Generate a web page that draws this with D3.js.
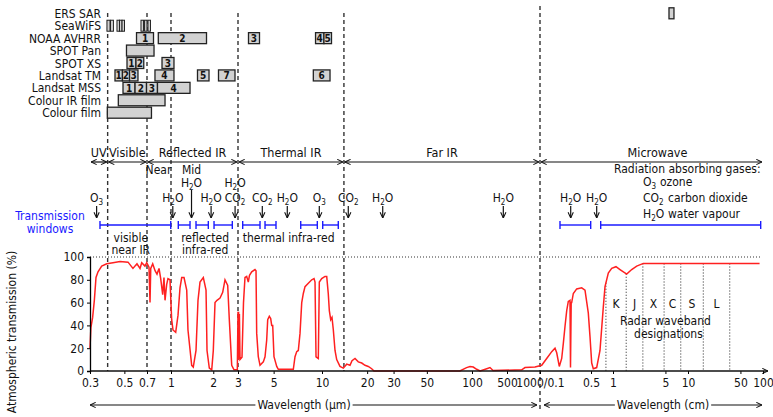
<!DOCTYPE html>
<html><head><meta charset="utf-8">
<script src="https://cdn.jsdelivr.net/npm/d3@7"></script>
<style>
body{margin:0;background:#fff;}
text{font-family:"DejaVu Sans Condensed","Liberation Sans Narrow",sans-serif;font-size:12px;fill:#111;}
</style></head><body>
<svg id="chart" width="773" height="417"></svg>
<script>
// ---- data (wavelengths in micrometres) ----
var sensorNames = ["ERS SAR","SeaWiFS","NOAA AVHRR","SPOT Pan","SPOT XS","Landsat TM","Landsat MSS","Colour IR film","Colour film"];
var sensorBands = [
  ["ERS SAR",55800,65000,""],
  ["SeaWiFS",0.386,0.404,""],["SeaWiFS",0.407,0.425,""],["SeaWiFS",0.448,0.465,""],["SeaWiFS",0.465,0.483,""],
  ["SeaWiFS",0.483,0.501,""],["SeaWiFS",0.640,0.665,""],["SeaWiFS",0.675,0.700,""],["SeaWiFS",0.710,0.737,""],
  ["NOAA AVHRR",0.599,0.771,"1"],["NOAA AVHRR",0.828,1.79,"2"],["NOAA AVHRR",3.487,4.083,"3"],
  ["NOAA AVHRR",9.115,10.3,"4"],["NOAA AVHRR",10.3,11.57,"5"],
  ["SPOT Pan",0.516,0.777,""],
  ["SPOT XS",0.52,0.594,"1"],["SPOT XS",0.594,0.667,"2"],["SPOT XS",0.875,1.05,"3"],
  ["Landsat TM",0.435,0.486,"1"],["Landsat TM",0.486,0.54,"2"],["Landsat TM",0.54,0.612,"3"],
  ["Landsat TM",0.788,1.05,"4"],["Landsat TM",1.544,1.865,"5"],["Landsat TM",2.179,2.856,"7"],["Landsat TM",8.83,11.31,"6"],
  ["Landsat MSS",0.49,0.586,"1"],["Landsat MSS",0.586,0.695,"2"],["Landsat MSS",0.695,0.818,"3"],["Landsat MSS",0.818,1.366,"4"],
  ["Colour IR film",0.457,0.915,""],
  ["Colour film",0.388,0.748,""]
];
var regions = [["UV",0.3,0.39],["Visible",0.39,0.7],["Reflected IR",0.7,3],["Thermal IR",3,14],["Far IR",14,1000],["Microwave",1000,1e6]];
var boundaries = [0.39,0.7,1,3,14];
var subRegions = [["Near",0.83],["Mid",1.4]];
var windows = [[0.348,0.996],[1.127,1.366],[1.507,1.844],[2.025,2.733],[3.209,4.113],[4.419,5.172],
               [7.371,9.352],[10.11,12.84],[1879,4949],[6783,931600]];
var windowNotes = [["visible",0.55,0],["near IR",0.55,1],["reflected",1.75,0],["infra-red",1.75,1],["thermal infra-red",6.2,0]];
var gasArrows = [[0.331,0],[1.03,0],[1.40,1],[1.93,0],[2.86,0],[4.25,0],[6.08,0],[9.62,0],[14.97,0],[25.4,0],[422,0],[2634,0],[5979,0]];
var gasLabels = [[0.331,"O3",0],[1.03,"H2O",0],[1.40,"H2O",1],[1.93,"H2O",0],[2.86,"H2O",1],[2.86,"CO2",0],[4.25,"CO2",0],
                 [6.08,"H2O",0],[9.62,"O3",0],[14.97,"CO2",0],[25.4,"H2O",0],[422,"H2O",0],[2634,"H2O",0],[5979,"H2O",0]];
var gasLegend = [["O3","ozone"],["CO2","carbon dioxide"],["H2O","water vapour"]];
var transmission = [
  [0.300,20],[0.304,38],[0.312,47],[0.320,62],[0.328,82],[0.338,87],[0.357,92],[0.385,94],[0.422,95],[0.469,96],[0.528,95.5],
  [0.568,90],[0.603,94],[0.631,90],[0.647,95],[0.679,92],[0.697,95],[0.721,91],[0.732,60],[0.740,90],[0.762,94],[0.789,88],
  [0.812,85],[0.837,90],[0.858,81],[0.884,67],[0.901,82],[0.915,62],[0.938,76],[0.956,81],[0.985,80],
  [1.011,45],[1.033,36],[1.080,34],[1.122,49],[1.159,73],[1.192,82],[1.238,82],[1.294,71],[1.321,36],[1.404,5],[1.441,3.5],
  [1.507,18],[1.557,62],[1.609,78],[1.699,82],[1.776,71],[1.805,18],[1.874,2.6],[1.950,1],[2.001,18],[2.058,60],[2.126,62],
  [2.234,64],[2.334,69],[2.424,80],[2.534,75],[2.602,45],[2.706,5],[2.810,1],[2.967,1],
  [3.000,52],[3.013,10],[3.026,52],[3.043,10],[3.061,50],[3.088,10],[3.177,12],[3.246,60],[3.316,82],[3.398,83],[3.477,78],
  [3.538,84],[3.651,87],[3.828,89],[3.884,88],[3.922,33],[4.013,12.5],[4.113,5],[4.312,8],[4.419,12.5],[4.525,27],[4.592,45],
  [4.699,48],[4.794,46],[4.863,40],[4.933,40],[5.025,12.5],[5.226,4],[5.346,1.5],[6.630,1.5],[6.792,12.5],[6.960,17],[7.121,18],
  [7.297,33],[7.478,60],[7.651,68],[7.841,74],[8.220,77],[8.630,80],[8.920,81],[9.049,78],[9.179,12.5],[9.486,11],[9.623,78],
  [9.959,81],[10.47,83],[10.75,83],[11.01,68],[11.19,53],[11.43,45],[11.66,47],[11.90,36],[12.21,18],[12.53,10],[13.18,4],
  [13.87,2.5],[14.61,6],[15.37,5],[15.85,9],[16.6,11],[17.46,8],[18.40,7],[19.35,5],[20.35,4],[21.45,2],[22.22,0],[83,0],
  [92,3],[97,4],[106,3.5],[124,1.5],[145,0],[197,2],[229,3],[263,0.5],[681,1],[730,3],[900,3.5],[1055,5],[1235,11],[1447,17],
  [1605,20],[1694,16],[1838,4],[1983,11],[2085,24],[2200,39],[2322,53],[2442,61],[2576,62],[2617,3],[2675,60],[2718,60],
  [2860,68],[3182,72],[3725,73],[4135,71],[4587,51],[4842,30],[5108,7],[5372,2],[5978,3],[6634,18],[7364,56],[7772,74],
  [8623,86],[9599,90],[10965,91.5],[12397,89],[15229,85],[17757,89],[20701,92],[25351,94.4],[900000,94.4]
];
var radarEdges = [8000,15000,25000,48000,80000,160000,360000];
var radarBands = ["K","J","X","C","S","L"];
var tickUm = [0.3,0.5,0.7,1,2,3,5,10,20,30,50,100,500,1000];
var tickCm = [0.5,1,5,10,50,100];
var yTicks = [0,20,40,60,80,100];

// ---- scales ----
var svg = d3.select("#chart");
var x = d3.scaleLog()
  .domain([0.3,1,3,10,100,500,1000,1e4,1e6])
  .range([90,171,238,322,472,507,540,613,763]);
var y = d3.scaleLinear().domain([0,100]).range([371,257]);
var row = d3.scalePoint().domain(sensorNames).range([13.3,112.7]);

var defs = svg.append("defs");
defs.append("marker").attr("id","arr").attr("viewBox","0 0 8 8")
  .attr("refX",7.5).attr("refY",4).attr("markerWidth",7).attr("markerHeight",7)
  .attr("markerUnits","userSpaceOnUse").attr("orient","auto-start-reverse")
  .append("path").attr("d","M1,1 L7.5,4 L1,7").attr("fill","none").attr("stroke","#111").attr("stroke-width",1.2);

function gasText(sel, name) {
  var parts = {"O3":["O","3",""],"H2O":["H","2","O"],"CO2":["CO","2",""]}[name];
  sel.append("tspan").text(parts[0]);
  sel.append("tspan").attr("dy",3).attr("font-size","8px").text(parts[1]);
  if (parts[2]) sel.append("tspan").attr("dy",-3).text(parts[2]);
}

// ---- dashed boundary lines ----
svg.selectAll("line.bound").data(boundaries).enter().append("line")
  .attr("x1",d=>x(d)).attr("x2",d=>x(d)).attr("y1",13).attr("y2",371)
  .attr("stroke","#333").attr("stroke-width",1.4).attr("stroke-dasharray","4,3");
svg.append("line").attr("x1",x(1000)).attr("x2",x(1000)).attr("y1",6).attr("y2",411)
  .attr("stroke","#333").attr("stroke-width",1.4).attr("stroke-dasharray","4,3");

// ---- sensors ----
svg.selectAll("text.sensor").data(sensorNames).enter().append("text")
  .attr("x",101).attr("y",d=>row(d)+4.5).attr("text-anchor","end").text(d=>d);
var bands = svg.selectAll("g.band").data(sensorBands).enter().append("g");
bands.append("rect")
  .attr("x",d=>x(d[1])).attr("width",d=>x(d[2])-x(d[1]))
  .attr("y",d=>row(d[0])-5.5).attr("height",11)
  .attr("fill","#d2d2d2").attr("stroke","#222").attr("stroke-width",d=>d[0]=="SeaWiFS"?1:1.3);
bands.append("text")
  .attr("x",d=>(x(d[1])+x(d[2]))/2).attr("y",d=>row(d[0])+4)
  .attr("text-anchor","middle").style("font-size","10px").style("font-weight","bold")
  .text(d=>d[3]);

// ---- regions ----
var reg = svg.selectAll("g.reg").data(regions).enter().append("g");
reg.append("line").attr("x1",d=>x(d[1])+1).attr("x2",d=>x(d[2])-1).attr("y1",162).attr("y2",162)
  .attr("stroke","#111").attr("stroke-width",1.2)
  .attr("marker-start","url(#arr)").attr("marker-end","url(#arr)");
reg.append("text").attr("x",(d,i)=>(x(d[1])+x(d[2]))/2 + (i==5?6:0)).attr("y",157)
  .attr("text-anchor","middle").style("font-size","12.5px").text(d=>d[0]);
svg.selectAll("text.sub").data(subRegions).enter().append("text")
  .attr("x",d=>x(d[1])).attr("y",174).attr("text-anchor","middle").text(d=>d[0]);

// ---- gases ----
svg.selectAll("line.gas").data(gasArrows).enter().append("line")
  .attr("x1",d=>x(d[0])).attr("x2",d=>x(d[0]))
  .attr("y1",d=>d[1]?190:206).attr("y2",218)
  .attr("stroke","#111").attr("stroke-width",1.2).attr("marker-end","url(#arr)");
svg.selectAll("text.gas").data(gasLabels).enter().append("text")
  .attr("x",d=>x(d[0])).attr("y",d=>d[2]?187:202).attr("text-anchor","middle")
  .each(function(d){ gasText(d3.select(this), d[1]); });
svg.append("text").attr("x",614).attr("y",173).text("Radiation absorbing gases:");
gasLegend.forEach(function(d,i){
  var t = svg.append("text").attr("x",643).attr("y",186+i*16);
  gasText(t, d[0]);
  svg.append("text").attr("x",i==0?660:668).attr("y",186+i*16).text(d[1]);
});

// ---- transmission windows ----
svg.append("text").attr("x",50).attr("y",220).attr("text-anchor","middle").style("fill","#1a1aff").text("Transmission");
svg.append("text").attr("x",50).attr("y",233).attr("text-anchor","middle").style("fill","#1a1aff").text("windows");
var win = svg.selectAll("g.win").data(windows).enter().append("g")
  .attr("stroke","#1a1aff").attr("stroke-width",1.4);
win.append("line").attr("x1",d=>x(d[0])).attr("x2",d=>x(d[1])).attr("y1",225).attr("y2",225);
win.append("line").attr("x1",d=>x(d[0])).attr("x2",d=>x(d[0])).attr("y1",221).attr("y2",229);
win.append("line").attr("x1",d=>x(d[1])).attr("x2",d=>x(d[1])).attr("y1",221).attr("y2",229);
svg.selectAll("text.wn").data(windowNotes).enter().append("text")
  .attr("x",d=>x(d[1])).attr("y",d=>242+d[2]*12).attr("text-anchor","middle").text(d=>d[0]);

// ---- plot ----
svg.append("line").attr("x1",90).attr("x2",762).attr("y1",y(100)).attr("y2",y(100))
  .attr("stroke","#333").attr("stroke-width",1.2).attr("stroke-dasharray","1,2");

function curveAt(w) {
  var i = d3.bisector(d=>d[0]).left(transmission, w);
  var a = transmission[i-1], b = transmission[i];
  var t = (Math.log(w)-Math.log(a[0]))/(Math.log(b[0])-Math.log(a[0]));
  return a[1] + t*(b[1]-a[1]);
}
svg.selectAll("line.radar").data(radarEdges).enter().append("line")
  .attr("x1",d=>x(d)).attr("x2",d=>x(d)).attr("y1",d=>y(curveAt(d))).attr("y2",371)
  .attr("stroke","#333").attr("stroke-width",1.1).attr("stroke-dasharray","1,2");
svg.selectAll("text.radar").data(radarBands).enter().append("text")
  .attr("x",(d,i)=>x(Math.sqrt(radarEdges[i]*radarEdges[i+1]))).attr("y",308)
  .attr("text-anchor","middle").text(d=>d);
svg.append("text").attr("x",x(50000)).attr("y",325).attr("text-anchor","middle").text("Radar waveband");
svg.append("text").attr("x",x(50000)+3).attr("y",338).attr("text-anchor","middle").text("designations");

svg.append("path").datum(transmission)
  .attr("fill","none").attr("stroke","#ff2020").attr("stroke-width",1.5)
  .attr("d", d3.line().x(d=>x(d[0])).y(d=>y(d[1])));

// axes
var xAxis = d3.axisBottom(x)
  .tickValues(tickUm.concat(tickCm.map(c=>c*1e4)))
  .tickSize(3)
  .tickFormat(d => d==1000 ? "1000/0.1" : (d>1000 ? String(d/1e4) : String(d)));
var gx = svg.append("g").attr("transform","translate(0,371)").call(xAxis);
gx.select(".domain").remove();
gx.selectAll("text").style("font-size","12px").attr("dy","0.85em");
svg.append("line").attr("x1",90).attr("x2",768).attr("y1",371).attr("y2",371)
  .attr("stroke","#111").attr("stroke-width",1.3).attr("marker-end","url(#arr)");

var gy = svg.append("g").attr("transform","translate(90,0)")
  .call(d3.axisLeft(y).tickValues(yTicks).tickSize(3));
gy.select(".domain").attr("stroke-width",1.3);
gy.selectAll("text").style("font-size","12px");

svg.append("text").attr("transform","translate(16,332) rotate(-90)")
  .attr("text-anchor","middle").text("Atmospheric transmission (%)");

// wavelength arrows at bottom
function labelledArrow(x0, x1, cx, label) {
  var t = svg.append("text").attr("x",cx).attr("y",409).attr("text-anchor","middle").text(label);
  var w = t.node().getComputedTextLength();
  svg.append("line").attr("x1",x0).attr("x2",cx-w/2-2).attr("y1",405).attr("y2",405)
    .attr("stroke","#111").attr("stroke-width",1.2).attr("marker-start","url(#arr)");
  svg.append("line").attr("x1",cx+w/2+2).attr("x2",x1).attr("y1",405).attr("y2",405)
    .attr("stroke","#111").attr("stroke-width",1.2).attr("marker-end","url(#arr)");
}
labelledArrow(x(0.3), x(1000)-3, 304, "Wavelength (\u00b5m)");
labelledArrow(x(1000)+4, 762, 663, "Wavelength (cm)");
</script>
</body></html>
